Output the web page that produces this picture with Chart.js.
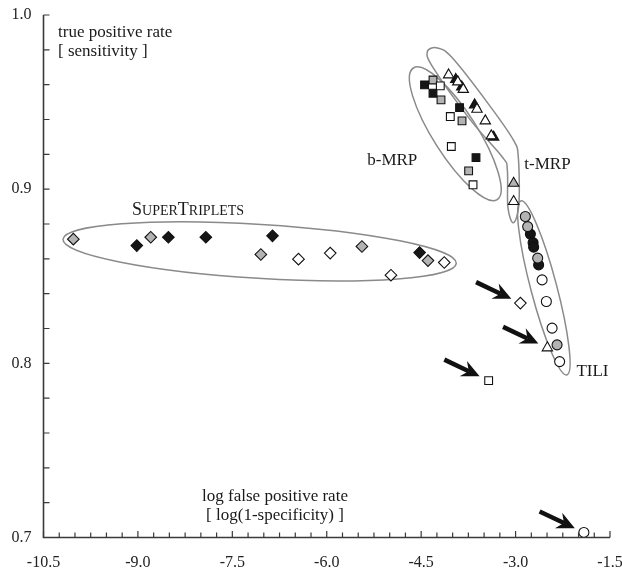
<!DOCTYPE html>
<html><head><meta charset="utf-8">
<script src="https://cdn.jsdelivr.net/npm/chart.js@4.4.0/dist/chart.umd.min.js"></script>
<style>html,body{margin:0;padding:0;background:#fff}</style>
</head><body>
<canvas id="c" width="622" height="573"></canvas>
<script>
// ---- data (log false positive rate, true positive rate) ----
const xTickLabels = ['-10.5','-9.0','-7.5','-6.0','-4.5','-3.0','-1.5'];
const yTickLabels = ['0.7','0.8','0.9','1.0'];

const superTripletsBlack = [[-9.018,0.8676],[-8.516,0.8724],[-7.921,0.8724],[-6.862,0.8732],[-4.525,0.8636]];
const superTripletsGrey  = [[-10.026,0.8713],[-8.796,0.8724],[-7.047,0.8625],[-5.441,0.8671],[-4.392,0.8590]];
const superTripletsWhite = [[-6.449,0.8598],[-5.945,0.8633],[-4.980,0.8506],[-4.133,0.8579],[-2.924,0.8346]];

const bMrpBlack = [[-4.446,0.9599],[-4.312,0.9551],[-3.890,0.9468],[-3.629,0.9181]];
const bMrpGrey  = [[-4.312,0.9627],[-4.185,0.9513],[-3.851,0.9392],[-3.746,0.9105]];
const bMrpWhite = [[-4.196,0.9593],[-4.037,0.9417],[-4.021,0.9245],[-3.676,0.9025],[-3.428,0.7901]];

const tMrpBlack = [[-3.950,0.9630],[-3.855,0.9587],[-3.651,0.9484],[-3.349,0.9299]];
const tMrpGrey  = [[-3.031,0.9034]];
const tMrpWhite = [[-4.064,0.9656],[-3.918,0.9616],[-3.831,0.9573],[-3.613,0.9459],[-3.481,0.9392],[-3.386,0.9306],[-3.031,0.8929],[-2.495,0.8089]];

const tiliBlack = [[-2.765,0.8742],[-2.722,0.8693],[-2.713,0.8667],[-2.634,0.8565]];
const tiliGrey  = [[-2.845,0.8843],[-2.808,0.8785],[-2.649,0.8604],[-2.341,0.8106]];
const tiliWhite = [[-2.579,0.8479],[-2.511,0.8355],[-2.420,0.8202],[-2.300,0.8010],[-1.915,0.7029]];

// ---- annotations (data coordinates) ----
const ellipses = [
  {cx:-7.066, cy:0.8643, a:197, b:27, angle:3.5},
  {cx:-3.958, cy:0.9318, a:78,  b:22, angle:57.5},
  {cx:-2.551, cy:0.8433, a:90,  b:13, angle:75.2}
];
const tMrpOutline = [[-4.244,0.9811],[-4.006,0.9754],[-3.433,0.9490],[-3.036,0.9283],[-2.956,0.9180],[-2.948,0.8910],
  [-3.036,0.8807],[-3.123,0.8898],[-3.131,0.9111],[-3.211,0.9185],[-3.719,0.9398],[-4.308,0.9696],[-4.403,0.9788]];
const arrowTargets = [['superTripletsWhite',4],['tMrpWhite',7],['bMrpWhite',4],['tiliWhite',4]];
const regionLabels = [
  {text:'b-MRP', x:-4.561, y:0.9140, align:'right'},
  {text:'t-MRP', x:-2.861, y:0.9117, align:'left'},
  {text:'TILI',  x:-2.034, y:0.7928, align:'left'}
];
const superLabel = {x:-8.203, y:0.8853, parts:[['S',true],['UPER',false],['T',true],['RIPLETS',false]]};

const SERIF = '"Liberation Serif", "Times New Roman", serif';
const fills = {white:'#ffffff', grey:'#b3b3b3', black:'#161616'};
const sets = {superTripletsBlack, superTripletsGrey, superTripletsWhite, bMrpBlack, bMrpGrey, bMrpWhite,
  tMrpBlack, tMrpGrey, tMrpWhite, tiliBlack, tiliGrey, tiliWhite};

function ds(name, style, shade, r){
  return {label:name, data:sets[name].map(p=>({x:p[0], y:p[1]})), pointStyle:style,
    pointRadius:r, pointHoverRadius:r, backgroundColor:fills[shade], borderColor:'#111', borderWidth:1.1};
}
const datasets = [
  ds('superTripletsWhite','rectRot','white',5.8), ds('bMrpWhite','rect','white',5.5),
  ds('tMrpWhite','triangle','white',6), ds('tiliWhite','circle','white',5),
  ds('superTripletsGrey','rectRot','grey',5.8), ds('bMrpGrey','rect','grey',5.5),
  ds('tMrpGrey','triangle','grey',6), ds('tiliGrey','circle','grey',5),
  ds('superTripletsBlack','rectRot','black',5.8), ds('bMrpBlack','rect','black',5.5),
  ds('tMrpBlack','triangle','black',6), ds('tiliBlack','circle','black',5)
];

function smoothClosed(ctx, pts){
  const n = pts.length;
  ctx.moveTo(pts[0][0], pts[0][1]);
  for (let i=0;i<n;i++){
    const p0=pts[(i-1+n)%n], p1=pts[i], p2=pts[(i+1)%n], p3=pts[(i+2)%n];
    ctx.bezierCurveTo(p1[0]+(p2[0]-p0[0])/6, p1[1]+(p2[1]-p0[1])/6,
                      p2[0]-(p3[0]-p1[0])/6, p2[1]-(p3[1]-p1[1])/6, p2[0], p2[1]);
  }
  ctx.closePath();
}

const overlay = {
  id:'overlay',
  beforeDatasetsDraw(chart){
    const {ctx, scales:{x, y}} = chart;
    ctx.save();
    ctx.strokeStyle = '#8a8a8a'; ctx.lineWidth = 1.5;
    ellipses.forEach(e=>{
      ctx.beginPath();
      ctx.ellipse(x.getPixelForValue(e.cx), y.getPixelForValue(e.cy), e.a, e.b, e.angle*Math.PI/180, 0, Math.PI*2);
      ctx.stroke();
    });
    ctx.beginPath();
    smoothClosed(ctx, tMrpOutline.map(p=>[x.getPixelForValue(p[0]), y.getPixelForValue(p[1])]));
    ctx.stroke();
    ctx.restore();
  },
  afterDraw(chart){
    const {ctx, chartArea:ca, scales:{x, y}} = chart;
    ctx.save();
    // axes
    ctx.strokeStyle = '#3a3a3a'; ctx.lineWidth = 1.6;
    ctx.beginPath();
    ctx.moveTo(ca.left, ca.top); ctx.lineTo(ca.left, ca.bottom); ctx.lineTo(ca.right, ca.bottom);
    ctx.stroke();
    ctx.lineWidth = 1.2;
    ctx.beginPath();
    x.ticks.forEach(t=>{
      const px = x.getPixelForValue(t.value);
      const major = Math.abs(t.value/1.5 - Math.round(t.value/1.5)) < 1e-6;
      ctx.moveTo(px, ca.bottom); ctx.lineTo(px, ca.bottom - (major ? 6.5 : 5));
    });
    y.ticks.forEach(t=>{
      const py = y.getPixelForValue(t.value);
      ctx.moveTo(ca.left, py); ctx.lineTo(ca.left + 6, py);
    });
    ctx.stroke();
    // arrows
    const ux = Math.cos(25.3*Math.PI/180), uy = Math.sin(25.3*Math.PI/180);
    ctx.fillStyle = '#111'; ctx.strokeStyle = '#111';
    arrowTargets.forEach(([name, i])=>{
      const p = sets[name][i];
      const tx = x.getPixelForValue(p[0]) - 10*ux, ty = y.getPixelForValue(p[1]) - 10*uy;
      const sx = tx - 39*ux, sy = ty - 39*uy;
      const hl = 18, hw = 8.5, notch = 12;
      ctx.lineWidth = 4.5; ctx.lineCap = 'butt';
      ctx.beginPath(); ctx.moveTo(sx, sy); ctx.lineTo(tx - notch*ux, ty - notch*uy); ctx.stroke();
      ctx.beginPath();
      ctx.moveTo(tx, ty);
      ctx.lineTo(tx - hl*ux - hw*uy, ty - hl*uy + hw*ux);
      ctx.lineTo(tx - notch*ux, ty - notch*uy);
      ctx.lineTo(tx - hl*ux + hw*uy, ty - hl*uy - hw*ux);
      ctx.closePath(); ctx.fill();
    });
    // texts
    ctx.fillStyle = '#1a1a1a';
    ctx.font = '17px ' + SERIF; ctx.textBaseline = 'alphabetic';
    ctx.textAlign = 'left';
    ctx.fillText('true positive rate', ca.left + 14.5, ca.top + 22);
    ctx.fillText('[ sensitivity ]', ca.left + 14.5, ca.top + 41);
    ctx.textAlign = 'center';
    ctx.fillText('log false positive rate', 275, ca.bottom - 37);
    ctx.fillText('[ log(1-specificity) ]', 275, ca.bottom - 18);
    regionLabels.forEach(l=>{
      ctx.textAlign = l.align;
      ctx.fillText(l.text, x.getPixelForValue(l.x), y.getPixelForValue(l.y));
    });
    // small caps SuperTriplets
    const fBig = '18px ' + SERIF, fSmall = '14px ' + SERIF;
    let total = 0;
    superLabel.parts.forEach(([s, big])=>{ ctx.font = big ? fBig : fSmall; total += ctx.measureText(s).width; });
    let cx = x.getPixelForValue(superLabel.x) - total/2;
    const by = y.getPixelForValue(superLabel.y);
    ctx.textAlign = 'left';
    superLabel.parts.forEach(([s, big])=>{ ctx.font = big ? fBig : fSmall; ctx.fillText(s, cx, by); cx += ctx.measureText(s).width; });
    ctx.restore();
  }
};

new Chart(document.getElementById('c'), {
  type:'scatter',
  data:{datasets},
  options:{
    responsive:false, animation:false, devicePixelRatio:1,
    layout:{padding:{top:15, right:12, left:0, bottom:0}},
    plugins:{legend:{display:false}, tooltip:{enabled:false}},
    scales:{
      x:{type:'linear', min:-10.5, max:-1.5,
        grid:{display:false, drawTicks:false}, border:{display:false},
        ticks:{stepSize:0.25, autoSkip:false, maxRotation:0, padding:16, color:'#222',
          font:{family:SERIF, size:16},
          callback:(v)=>{ const k=(v+10.5)/1.5; return Math.abs(k-Math.round(k))<1e-6 ? xTickLabels[Math.round(k)] : ''; }},
        afterFit(s){ s.height = 35.5; s.paddingLeft = 0; s.paddingRight = 0; }},
      y:{type:'linear', min:0.7, max:1.0,
        grid:{display:false, drawTicks:false}, border:{display:false},
        ticks:{stepSize:0.02, autoSkip:false, padding:12, color:'#222',
          font:{family:SERIF, size:16},
          callback:(v)=>{ const k=(v-0.7)/0.1; return Math.abs(k-Math.round(k))<1e-6 ? yTickLabels[Math.round(k)] : ''; }},
        afterFit(s){ s.width = 43.5; s.paddingTop = 0; s.paddingBottom = 0; }}
    }
  },
  plugins:[overlay]
});
</script>
</body></html>
